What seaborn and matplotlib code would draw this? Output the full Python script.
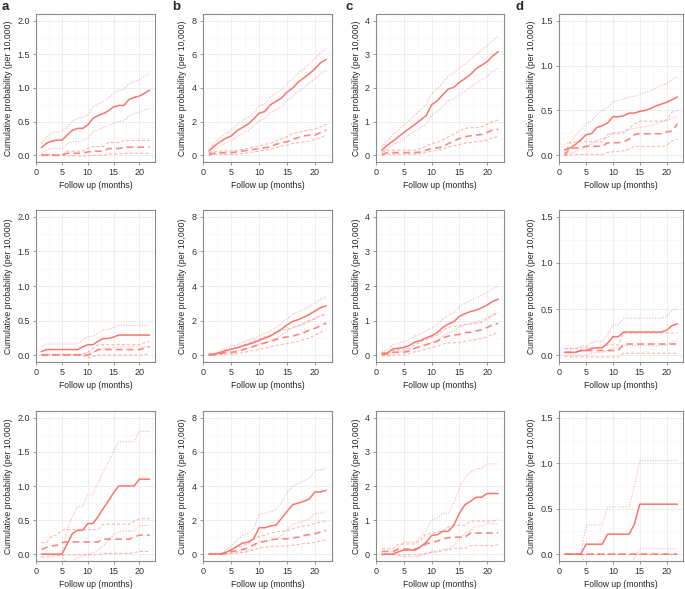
import matplotlib
matplotlib.use("Agg")
import matplotlib.pyplot as plt
import seaborn as sns
import pandas as pd
from matplotlib.ticker import MultipleLocator

# months of follow up
months = list(range(1, 23))

# ---- row 1 ----
a1_est = [0.11, 0.18, 0.21, 0.225, 0.225, 0.30, 0.37, 0.40, 0.40, 0.45, 0.55, 0.59, 0.62, 0.66, 0.72, 0.74, 0.74, 0.83, 0.86, 0.88, 0.92, 0.97]
a1_hi = [0.18, 0.27, 0.33, 0.35, 0.35, 0.42, 0.50, 0.55, 0.56, 0.60, 0.72, 0.76, 0.80, 0.85, 0.92, 0.96, 0.98, 1.06, 1.10, 1.12, 1.17, 1.23]
a1_lo = [0.03, 0.08, 0.10, 0.10, 0.10, 0.17, 0.20, 0.20, 0.22, 0.25, 0.35, 0.38, 0.41, 0.44, 0.48, 0.50, 0.51, 0.58, 0.62, 0.64, 0.67, 0.70]
a1_ref = [0.0, 0.0, 0.0, 0.0, 0.0, 0.03, 0.03, 0.03, 0.03, 0.05, 0.06, 0.06, 0.06, 0.10, 0.10, 0.10, 0.12, 0.12, 0.12, 0.12, 0.12, 0.12]
a1_ref_hi = [0.01, 0.01, 0.01, 0.01, 0.01, 0.06, 0.06, 0.06, 0.06, 0.10, 0.13, 0.13, 0.13, 0.19, 0.19, 0.19, 0.22, 0.22, 0.22, 0.22, 0.22, 0.22]
a1_ref_lo = [0.0, 0.0, 0.0, 0.0, 0.0, -0.01, -0.01, -0.01, -0.01, -0.01, 0.0, 0.0, 0.0, 0.02, 0.02, 0.02, 0.03, 0.03, 0.03, 0.03, 0.03, 0.03]

b1_est = [0.25, 0.55, 0.80, 1.00, 1.15, 1.45, 1.65, 1.85, 2.15, 2.50, 2.60, 3.00, 3.20, 3.40, 3.75, 4.00, 4.35, 4.60, 4.85, 5.15, 5.50, 5.70]
b1_hi = [0.40, 0.75, 1.05, 1.30, 1.50, 1.80, 2.05, 2.25, 2.55, 2.95, 3.05, 3.45, 3.70, 3.90, 4.25, 4.55, 4.90, 5.15, 5.45, 5.75, 6.10, 6.35]
b1_lo = [0.10, 0.35, 0.55, 0.75, 0.85, 1.10, 1.30, 1.45, 1.75, 2.05, 2.15, 2.55, 2.70, 2.90, 3.25, 3.50, 3.80, 4.05, 4.30, 4.55, 4.85, 5.05]
b1_ref = [0.05, 0.12, 0.15, 0.15, 0.15, 0.20, 0.25, 0.30, 0.35, 0.40, 0.45, 0.50, 0.65, 0.75, 0.80, 0.95, 1.05, 1.15, 1.20, 1.20, 1.35, 1.50]
b1_ref_hi = [0.15, 0.20, 0.25, 0.25, 0.25, 0.30, 0.35, 0.40, 0.50, 0.55, 0.65, 0.70, 0.85, 1.00, 1.10, 1.30, 1.35, 1.45, 1.50, 1.55, 1.70, 1.85]
b1_ref_lo = [0.0, 0.05, 0.05, 0.05, 0.05, 0.05, 0.10, 0.15, 0.20, 0.25, 0.30, 0.35, 0.45, 0.55, 0.60, 0.70, 0.75, 0.80, 0.85, 0.95, 1.05, 1.20]

c1_est = [0.15, 0.30, 0.42, 0.55, 0.68, 0.80, 0.92, 1.05, 1.18, 1.50, 1.62, 1.80, 1.97, 2.02, 2.17, 2.28, 2.40, 2.57, 2.68, 2.78, 2.95, 3.08]
c1_hi = [0.25, 0.45, 0.60, 0.75, 0.90, 1.05, 1.20, 1.35, 1.50, 1.85, 1.97, 2.15, 2.35, 2.45, 2.60, 2.72, 2.85, 3.00, 3.12, 3.25, 3.40, 3.55]
c1_lo = [0.07, 0.20, 0.30, 0.40, 0.50, 0.62, 0.72, 0.82, 0.92, 1.20, 1.30, 1.45, 1.62, 1.67, 1.80, 1.90, 2.02, 2.15, 2.25, 2.35, 2.48, 2.60]
c1_ref = [0.02, 0.08, 0.08, 0.08, 0.08, 0.08, 0.08, 0.10, 0.15, 0.20, 0.22, 0.25, 0.35, 0.42, 0.50, 0.55, 0.58, 0.60, 0.62, 0.68, 0.75, 0.77]
c1_ref_hi = [0.10, 0.15, 0.15, 0.15, 0.15, 0.15, 0.15, 0.20, 0.27, 0.35, 0.38, 0.45, 0.55, 0.63, 0.72, 0.80, 0.82, 0.82, 0.85, 0.92, 1.00, 1.05]
c1_ref_lo = [0.0, 0.03, 0.03, 0.03, 0.03, 0.03, 0.03, 0.05, 0.08, 0.12, 0.15, 0.18, 0.25, 0.28, 0.32, 0.36, 0.38, 0.40, 0.42, 0.45, 0.52, 0.56]

d1_est = [0.06, 0.08, 0.12, 0.17, 0.23, 0.24, 0.31, 0.33, 0.36, 0.43, 0.43, 0.44, 0.47, 0.47, 0.49, 0.50, 0.52, 0.55, 0.57, 0.59, 0.62, 0.65]
d1_hi = [0.12, 0.15, 0.22, 0.28, 0.35, 0.38, 0.46, 0.50, 0.53, 0.60, 0.61, 0.63, 0.65, 0.66, 0.68, 0.70, 0.72, 0.75, 0.78, 0.80, 0.84, 0.88]
d1_lo = [0.0, 0.02, 0.04, 0.07, 0.11, 0.12, 0.17, 0.19, 0.20, 0.25, 0.26, 0.27, 0.29, 0.30, 0.31, 0.32, 0.33, 0.35, 0.37, 0.39, 0.41, 0.43]
d1_ref = [0.0, 0.08, 0.08, 0.08, 0.10, 0.10, 0.10, 0.10, 0.14, 0.14, 0.14, 0.15, 0.18, 0.23, 0.24, 0.24, 0.24, 0.24, 0.24, 0.26, 0.27, 0.35]
d1_ref_hi = [0.02, 0.14, 0.15, 0.15, 0.15, 0.15, 0.15, 0.15, 0.23, 0.24, 0.24, 0.25, 0.30, 0.35, 0.38, 0.38, 0.38, 0.38, 0.38, 0.39, 0.48, 0.50]
d1_ref_lo = [0.0, 0.0, 0.01, 0.01, 0.01, 0.01, 0.01, 0.01, 0.03, 0.04, 0.04, 0.05, 0.07, 0.10, 0.10, 0.10, 0.10, 0.10, 0.10, 0.11, 0.16, 0.18]

# ---- row 2 ----
a2_est = [0.05, 0.08, 0.08, 0.08, 0.08, 0.08, 0.08, 0.08, 0.12, 0.15, 0.15, 0.20, 0.24, 0.24, 0.26, 0.29, 0.29, 0.29, 0.29, 0.29, 0.29, 0.29]
a2_hi = [0.12, 0.16, 0.16, 0.16, 0.16, 0.16, 0.16, 0.16, 0.22, 0.27, 0.27, 0.32, 0.37, 0.37, 0.40, 0.43, 0.43, 0.43, 0.43, 0.43, 0.43, 0.43]
a2_lo = [0.0, 0.01, 0.01, 0.01, 0.01, 0.01, 0.01, 0.01, 0.02, 0.04, 0.04, 0.07, 0.10, 0.10, 0.11, 0.12, 0.12, 0.12, 0.12, 0.12, 0.12, 0.12]
a2_ref = [0.0, 0.0, 0.0, 0.0, 0.0, 0.0, 0.0, 0.0, 0.0, 0.0, 0.03, 0.08, 0.08, 0.08, 0.08, 0.08, 0.08, 0.08, 0.08, 0.08, 0.10, 0.12]
a2_ref_hi = [0.01, 0.01, 0.01, 0.01, 0.01, 0.01, 0.01, 0.01, 0.01, 0.04, 0.10, 0.15, 0.15, 0.15, 0.15, 0.15, 0.15, 0.15, 0.15, 0.15, 0.18, 0.20]
a2_ref_lo = [0.0, 0.0, 0.0, 0.0, 0.0, 0.0, 0.0, 0.0, 0.0, -0.04, -0.02, 0.0, 0.0, 0.0, 0.0, 0.0, 0.0, 0.0, 0.0, 0.0, 0.01, 0.01]

b2_est = [0.05, 0.05, 0.15, 0.25, 0.35, 0.42, 0.52, 0.62, 0.72, 0.85, 0.98, 1.10, 1.30, 1.50, 1.75, 1.95, 2.05, 2.20, 2.35, 2.55, 2.75, 2.85]
b2_hi = [0.05, 0.08, 0.25, 0.40, 0.50, 0.60, 0.72, 0.85, 0.95, 1.10, 1.25, 1.40, 1.60, 1.85, 2.10, 2.35, 2.50, 2.65, 2.80, 3.00, 3.25, 3.35]
b2_lo = [0.0, 0.02, 0.08, 0.15, 0.22, 0.28, 0.35, 0.43, 0.52, 0.62, 0.72, 0.83, 1.00, 1.17, 1.40, 1.57, 1.65, 1.78, 1.92, 2.10, 2.27, 2.35]
b2_ref = [0.0, 0.02, 0.08, 0.15, 0.15, 0.20, 0.30, 0.40, 0.50, 0.60, 0.70, 0.80, 0.90, 1.00, 1.05, 1.10, 1.20, 1.30, 1.45, 1.55, 1.70, 1.85]
b2_ref_hi = [0.02, 0.05, 0.15, 0.30, 0.35, 0.42, 0.55, 0.68, 0.80, 0.92, 1.05, 1.15, 1.30, 1.42, 1.50, 1.60, 1.72, 1.85, 2.00, 2.12, 2.30, 2.35]
b2_ref_lo = [0.0, 0.0, 0.02, 0.05, 0.05, 0.08, 0.13, 0.20, 0.27, 0.33, 0.40, 0.48, 0.55, 0.62, 0.68, 0.72, 0.80, 0.90, 1.00, 1.15, 1.32, 1.48]

c2_est = [0.05, 0.06, 0.18, 0.20, 0.22, 0.28, 0.38, 0.42, 0.50, 0.56, 0.65, 0.80, 0.90, 0.97, 1.12, 1.20, 1.26, 1.30, 1.37, 1.45, 1.55, 1.62]
c2_hi = [0.10, 0.15, 0.30, 0.35, 0.38, 0.45, 0.55, 0.62, 0.70, 0.78, 0.88, 1.05, 1.15, 1.25, 1.40, 1.50, 1.58, 1.65, 1.73, 1.82, 1.92, 2.00]
c2_lo = [0.0, 0.0, 0.08, 0.10, 0.12, 0.15, 0.22, 0.25, 0.32, 0.36, 0.42, 0.55, 0.65, 0.70, 0.82, 0.88, 0.92, 0.95, 1.02, 1.08, 1.17, 1.22]
c2_ref = [0.02, 0.03, 0.08, 0.08, 0.08, 0.12, 0.20, 0.25, 0.30, 0.35, 0.40, 0.50, 0.55, 0.58, 0.60, 0.65, 0.66, 0.70, 0.73, 0.80, 0.88, 0.92]
c2_ref_hi = [0.05, 0.07, 0.13, 0.15, 0.17, 0.20, 0.30, 0.38, 0.45, 0.52, 0.58, 0.72, 0.80, 0.83, 0.85, 0.88, 0.90, 0.92, 0.95, 1.05, 1.15, 1.22]
c2_ref_lo = [-0.02, -0.02, 0.0, 0.0, 0.0, 0.05, 0.10, 0.13, 0.17, 0.22, 0.25, 0.32, 0.35, 0.36, 0.37, 0.40, 0.42, 0.45, 0.48, 0.53, 0.60, 0.65]

d2_est = [0.03, 0.03, 0.03, 0.05, 0.05, 0.07, 0.08, 0.08, 0.13, 0.20, 0.20, 0.25, 0.25, 0.25, 0.25, 0.25, 0.25, 0.25, 0.25, 0.27, 0.32, 0.34]
d2_hi = [0.07, 0.07, 0.07, 0.10, 0.10, 0.13, 0.15, 0.15, 0.22, 0.33, 0.33, 0.40, 0.40, 0.40, 0.40, 0.40, 0.40, 0.40, 0.40, 0.42, 0.48, 0.52]
d2_lo = [0.0, 0.0, 0.0, 0.0, 0.0, 0.02, 0.03, 0.03, 0.05, 0.08, 0.08, 0.10, 0.10, 0.10, 0.10, 0.10, 0.10, 0.10, 0.10, 0.11, 0.14, 0.16]
d2_ref = [0.03, 0.03, 0.03, 0.05, 0.05, 0.05, 0.05, 0.05, 0.05, 0.05, 0.05, 0.12, 0.12, 0.12, 0.12, 0.12, 0.12, 0.12, 0.12, 0.12, 0.12, 0.12]
d2_ref_hi = [0.07, 0.07, 0.07, 0.08, 0.08, 0.08, 0.08, 0.08, 0.11, 0.11, 0.11, 0.24, 0.24, 0.24, 0.24, 0.24, 0.24, 0.24, 0.24, 0.24, 0.24, 0.24]
d2_ref_lo = [-0.02, -0.02, -0.02, -0.02, -0.02, -0.02, -0.02, -0.02, -0.02, -0.02, -0.02, 0.02, 0.02, 0.02, 0.02, 0.02, 0.02, 0.02, 0.02, 0.02, 0.02, 0.02]

# ---- row 3 ----
a3_est = [0.0, 0.0, 0.0, 0.0, 0.0, 0.15, 0.30, 0.35, 0.35, 0.45, 0.45, 0.55, 0.67, 0.78, 0.90, 1.00, 1.00, 1.00, 1.00, 1.10, 1.10, 1.10]
a3_hi = [0.0, 0.0, 0.0, 0.0, 0.0, 0.35, 0.55, 0.70, 0.70, 0.87, 0.87, 1.05, 1.20, 1.35, 1.50, 1.65, 1.65, 1.65, 1.65, 1.80, 1.80, 1.80]
a3_lo = [0.0, 0.0, 0.0, 0.0, 0.0, -0.20, -0.10, -0.05, -0.03, 0.0, 0.02, 0.06, 0.12, 0.20, 0.28, 0.33, 0.34, 0.34, 0.34, 0.42, 0.42, 0.42]
a3_ref = [0.07, 0.10, 0.12, 0.13, 0.17, 0.18, 0.18, 0.18, 0.18, 0.18, 0.18, 0.18, 0.22, 0.22, 0.22, 0.22, 0.22, 0.22, 0.25, 0.28, 0.28, 0.28]
a3_ref_hi = [0.17, 0.17, 0.27, 0.28, 0.35, 0.36, 0.36, 0.36, 0.36, 0.36, 0.36, 0.36, 0.44, 0.44, 0.44, 0.44, 0.44, 0.44, 0.48, 0.52, 0.52, 0.52]
a3_ref_lo = [-0.04, -0.04, -0.03, -0.02, -0.02, -0.01, -0.01, -0.01, -0.01, -0.01, -0.01, -0.01, 0.01, 0.01, 0.01, 0.01, 0.01, 0.01, 0.02, 0.04, 0.04, 0.04]

b3_est = [0.0, 0.0, 0.0, 0.10, 0.25, 0.45, 0.65, 0.70, 0.90, 1.55, 1.55, 1.65, 1.70, 2.10, 2.50, 2.90, 3.00, 3.10, 3.25, 3.65, 3.65, 3.75]
b3_hi = [0.0, 0.0, 0.0, 0.20, 0.50, 0.80, 1.10, 1.20, 1.50, 2.35, 2.40, 2.50, 2.60, 3.05, 3.55, 4.00, 4.15, 4.30, 4.45, 4.90, 4.95, 5.05]
b3_lo = [0.0, 0.0, 0.0, 0.0, 0.02, 0.10, 0.20, 0.22, 0.35, 0.75, 0.75, 0.82, 0.85, 1.10, 1.45, 1.75, 1.85, 1.95, 2.05, 2.40, 2.40, 2.50]
b3_ref = [0.0, 0.0, 0.0, 0.05, 0.15, 0.20, 0.28, 0.35, 0.55, 0.70, 0.75, 0.85, 0.88, 0.90, 0.90, 0.95, 1.00, 1.10, 1.15, 1.20, 1.30, 1.40]
b3_ref_hi = [0.02, 0.02, 0.02, 0.10, 0.30, 0.40, 0.50, 0.60, 0.85, 1.05, 1.10, 1.25, 1.30, 1.35, 1.35, 1.50, 1.60, 1.65, 1.70, 1.80, 1.90, 1.95]
b3_ref_lo = [0.0, 0.0, 0.0, 0.0, 0.05, 0.07, 0.10, 0.15, 0.25, 0.35, 0.40, 0.45, 0.47, 0.48, 0.48, 0.52, 0.57, 0.62, 0.65, 0.70, 0.78, 0.85]

c3_est = [0.0, 0.0, 0.0, 0.07, 0.12, 0.12, 0.12, 0.22, 0.35, 0.55, 0.57, 0.67, 0.67, 0.85, 1.20, 1.45, 1.55, 1.67, 1.67, 1.78, 1.78, 1.78]
c3_hi = [0.0, 0.0, 0.0, 0.20, 0.35, 0.35, 0.35, 0.50, 0.70, 1.00, 1.05, 1.20, 1.20, 1.50, 1.95, 2.25, 2.40, 2.50, 2.52, 2.65, 2.65, 2.65]
c3_lo = [0.0, 0.0, 0.0, -0.05, -0.08, -0.08, -0.08, -0.05, 0.0, 0.08, 0.10, 0.15, 0.15, 0.25, 0.45, 0.60, 0.70, 0.82, 0.82, 0.90, 0.90, 0.90]
c3_ref = [0.08, 0.08, 0.08, 0.15, 0.15, 0.15, 0.15, 0.20, 0.30, 0.35, 0.38, 0.45, 0.48, 0.50, 0.50, 0.50, 0.62, 0.62, 0.62, 0.62, 0.62, 0.62]
c3_ref_hi = [0.16, 0.16, 0.16, 0.30, 0.30, 0.30, 0.30, 0.40, 0.60, 0.60, 0.65, 0.68, 0.80, 0.85, 0.85, 0.85, 0.97, 0.97, 0.97, 0.97, 0.97, 1.03]
c3_ref_lo = [-0.02, -0.02, -0.02, -0.02, -0.02, -0.02, -0.02, 0.0, 0.03, 0.05, 0.07, 0.10, 0.13, 0.17, 0.17, 0.17, 0.25, 0.25, 0.25, 0.25, 0.25, 0.28]

d3_est = [0.0, 0.0, 0.0, 0.0, 0.11, 0.11, 0.11, 0.11, 0.22, 0.22, 0.22, 0.22, 0.22, 0.33, 0.55, 0.55, 0.55, 0.55, 0.55, 0.55, 0.55, 0.55]
d3_hi = [0.0, 0.0, 0.0, 0.0, 0.32, 0.32, 0.32, 0.32, 0.52, 0.52, 0.52, 0.52, 0.52, 0.75, 1.03, 1.03, 1.03, 1.03, 1.03, 1.03, 1.03, 1.03]
d3_lo = [0.0, 0.0, 0.0, 0.0, -0.12, -0.12, -0.12, -0.12, -0.10, -0.10, -0.10, -0.10, -0.10, -0.05, 0.06, 0.06, 0.06, 0.06, 0.06, 0.06, 0.06, 0.06]
d3_ref = [0.0] * 22
d3_ref_hi = [0.0] * 22
d3_ref_lo = [0.0] * 22

panel_letters = ["a", "b", "c", "d"]
y_max = [2.0, 8.0, 4.0, 1.5]
y_step = [0.5, 2.0, 1.0, 0.5]
y_fmt = ["{:.1f}", "{:.0f}", "{:.0f}", "{:.1f}"]

grid = [
    [(a1_est, a1_hi, a1_lo, a1_ref, a1_ref_hi, a1_ref_lo),
     (b1_est, b1_hi, b1_lo, b1_ref, b1_ref_hi, b1_ref_lo),
     (c1_est, c1_hi, c1_lo, c1_ref, c1_ref_hi, c1_ref_lo),
     (d1_est, d1_hi, d1_lo, d1_ref, d1_ref_hi, d1_ref_lo)],
    [(a2_est, a2_hi, a2_lo, a2_ref, a2_ref_hi, a2_ref_lo),
     (b2_est, b2_hi, b2_lo, b2_ref, b2_ref_hi, b2_ref_lo),
     (c2_est, c2_hi, c2_lo, c2_ref, c2_ref_hi, c2_ref_lo),
     (d2_est, d2_hi, d2_lo, d2_ref, d2_ref_hi, d2_ref_lo)],
    [(a3_est, a3_hi, a3_lo, a3_ref, a3_ref_hi, a3_ref_lo),
     (b3_est, b3_hi, b3_lo, b3_ref, b3_ref_hi, b3_ref_lo),
     (c3_est, c3_hi, c3_lo, c3_ref, c3_ref_hi, c3_ref_lo),
     (d3_est, d3_hi, d3_lo, d3_ref, d3_ref_hi, d3_ref_lo)],
]

sns.set_style("white")
plt.rcParams["font.family"] = ["Liberation Sans", "DejaVu Sans"]

RED = "#F8766D"
W, H = 685, 589
col_px = [(36, 155), (203, 332), (376, 504), (559, 683)]
row_px = [(14, 162), (210, 362), (411, 561)]
letter_x = [2, 172, 345, 515]

# line styles: (series key, linestyle, linewidth, alpha)
styles = [
    ("hi", (0, (1, 1.4)), 0.8, 0.55),
    ("lo", (0, (1, 1.4)), 0.8, 0.55),
    ("ref_hi", (0, (3, 2)), 0.75, 0.55),
    ("ref_lo", (0, (3, 2)), 0.75, 0.55),
    ("ref", (0, (4, 2.5)), 1.2, 0.85),
    ("est", "-", 1.1, 1.0),
]
keys = ["est", "hi", "lo", "ref", "ref_hi", "ref_lo"]

fig = plt.figure(figsize=(W / 100, H / 100), dpi=100)

for r, (top, bottom) in enumerate(row_px):
    for c, (left, right) in enumerate(col_px):
        ax = fig.add_axes([left / W, 1 - bottom / H, (right - left) / W, (bottom - top) / H])
        series = dict(zip(keys, grid[r][c]))
        df = pd.DataFrame({"month": months, **series})

        for key, ls, lw, alpha in styles:
            sns.lineplot(data=df, x="month", y=key, ax=ax, color=RED,
                         linestyle=ls, linewidth=lw, alpha=alpha)

        ymax = y_max[c]
        pad = 0.05 * ymax
        ax.set_xlim(-0.05, 23.05)
        ax.set_ylim(-pad, ymax + pad)
        ax.xaxis.set_major_locator(MultipleLocator(5))
        ax.xaxis.set_minor_locator(MultipleLocator(2.5))
        n_ticks = int(round(ymax / y_step[c])) + 1
        ax.set_yticks([v * y_step[c] for v in range(n_ticks)])
        ax.set_yticklabels([y_fmt[c].format(v * y_step[c]) for v in range(n_ticks)])
        ax.yaxis.set_minor_locator(MultipleLocator(y_step[c] / 2))

        ax.grid(which="major", color="#EBEBEB", linewidth=0.6)
        ax.grid(which="minor", color="#F4F4F4", linewidth=0.4)
        ax.set_axisbelow(True)
        for sp in ax.spines.values():
            sp.set_color("#8A8A8A")
            sp.set_linewidth(0.8)
        ax.tick_params(which="major", length=2.5, width=0.6, color="#8A8A8A",
                       labelsize=6.5, labelcolor="#333333", pad=2, direction="out",
                       bottom=True, left=True)
        ax.tick_params(which="minor", length=0)

        ax.set_xlabel("Follow up (months)", fontsize=6.2, labelpad=3)
        ax.set_ylabel("Cumulative probability (per 10,000)", fontsize=6.2, labelpad=3)

        if r == 0:
            fig.text(letter_x[c] / W, 1 - 7 / H, panel_letters[c],
                     fontsize=9.5, fontweight="bold", va="center", ha="left")

fig.savefig("out.png", dpi=100)
